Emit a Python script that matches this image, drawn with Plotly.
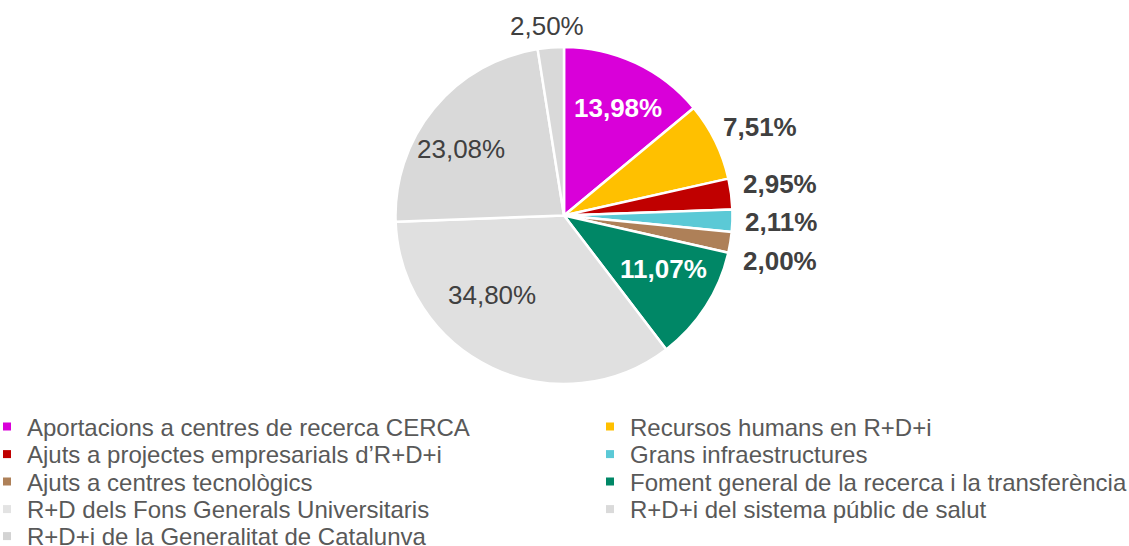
import math
import plotly.graph_objects as go

labels = [
    "Aportacions a centres de recerca CERCA",
    "Recursos humans en R+D+i",
    "Ajuts a projectes empresarials d\u2019R+D+i",
    "Grans infraestructures",
    "Ajuts a centres tecnològics",
    "Foment general de la recerca i la transferència",
    "R+D dels Fons Generals Universitaris",
    "R+D+i del sistema públic de salut",
    "R+D+i de la Generalitat de Catalunva",
]
values = [13.98, 7.51, 2.95, 2.11, 2.00, 11.07, 34.80, 23.08, 2.50]
colors = ["#d900d9", "#ffc000", "#c00000", "#5bc9d6", "#ae8058",
          "#008766", "#e0e0e0", "#d9d9d9", "#d9d9d9"]
legend_colors = ["#d900d9", "#ffc000", "#c00000", "#5bc9d6", "#ae8058",
                 "#008766", "#e3e3e3", "#dadada", "#d3d3d3"]
label_inside = [True, False, False, False, False, True, True, True, False]
bold = [True, True, True, True, True, True, False, False, False]
text_colors = ["#ffffff", "#404040", "#404040", "#404040", "#404040",
               "#ffffff", "#404040", "#404040", "#404040"]
# small pixel nudges of the value labels (x right, y down)
label_nudge = [(4, -1), (1, 7), (0, -4), (0, 0), (1, 11),
               (0, -10), (-22, -27), (-12, 8), (-2, 2)]

W, H = 1129, 546
FONT = "Liberation Sans, Arial, sans-serif"
LABEL_SIZE = 26

# pie domain (pixels) -> paper
px0, px1, py0, py1 = 395, 733, 47, 384
dom_x = [px0 / W, px1 / W]
dom_y = [1 - py1 / H, 1 - py0 / H]
cx, cy = (px0 + px1) / 2, (py0 + py1) / 2
radius = min(px1 - px0, py1 - py0) / 2

fig = go.Figure()
fig.add_trace(go.Pie(
    labels=labels, values=values, textinfo="none",
    marker=dict(colors=colors, line=dict(color="#ffffff", width=2.5)),
    sort=False, direction="clockwise", rotation=0,
    showlegend=False, hoverinfo="label+percent",
    domain=dict(x=dom_x, y=dom_y),
))

# value labels, positioned from each slice's mid angle
total = sum(values)
annotations = []
cum = 0.0
for v, ins, b, tc, (nx, ny) in zip(values, label_inside, bold, text_colors, label_nudge):
    mid = (cum + v / 2) / total * 2 * math.pi
    cum += v
    s, c = math.sin(mid), math.cos(mid)
    txt = f"{v:.2f}".replace(".", ",") + "%"
    if ins:
        d = 0.7 * radius
    else:
        d = radius + 11 + 37.5 * abs(s) + 10 * abs(c)
    x = cx + d * s
    y = cy - d * c
    annotations.append(dict(
        x=x / W, y=1 - y / H, xref="paper", yref="paper",
        text=f"<b>{txt}</b>" if b else txt, showarrow=False,
        xanchor="center", yanchor="middle", xshift=nx, yshift=-ny,
        font=dict(family=FONT, size=LABEL_SIZE, color=tc),
    ))

# Legend: two columns, row-major order
col_text_x = [27, 630]
row_y = [427, 454.5, 482, 509.5, 536.5]
layout_legends = {}
for i, (lab, col) in enumerate(zip(labels, legend_colors)):
    key = "legend" if i == 0 else f"legend{i + 1}"
    fig.add_trace(go.Scatter(
        x=[None], y=[None], mode="markers", name=lab,
        marker=dict(symbol="square", size=8, color=col),
        legend=key, showlegend=True, hoverinfo="skip",
    ))
    r, cidx = divmod(i, 2)
    layout_legends[key] = dict(
        x=(col_text_x[cidx] - 40) / W, xanchor="left",
        y=1 - row_y[r] / H, yanchor="middle",
        bgcolor="rgba(0,0,0,0)", borderwidth=0,
        font=dict(family=FONT, size=24, color="#595959"),
        itemclick=False, itemdoubleclick=False,
    )

fig.update_layout(
    width=W, height=H,
    margin=dict(l=0, r=0, t=0, b=0, autoexpand=False),
    paper_bgcolor="#ffffff", plot_bgcolor="#ffffff",
    xaxis=dict(visible=False), yaxis=dict(visible=False),
    font=dict(family=FONT),
    annotations=annotations,
    **layout_legends,
)

fig.write_html(
    "out.html",
    config={"displayModeBar": False},
    post_script="document.body.style.margin='0';document.body.style.overflow='hidden';",
)
